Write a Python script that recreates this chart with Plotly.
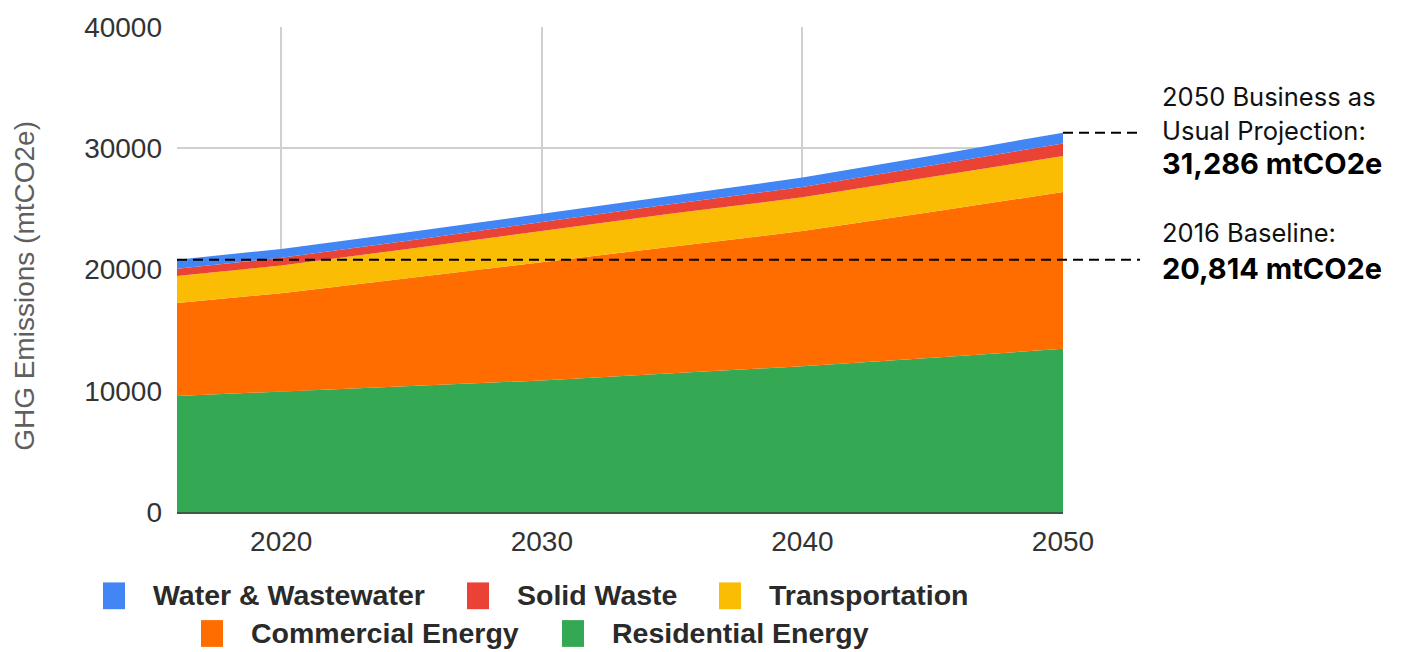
import plotly.graph_objects as go

# Projected GHG emissions by sector (mtCO2e)
years = [2016, 2020, 2025, 2030, 2035, 2040, 2045, 2050]
residential = [9570, 9940, 10420, 10850, 11440, 12020, 12720, 13460]
commercial = [7675, 8100, 8900, 9750, 10480, 11150, 12040, 12928]
transportation = [2215, 2300, 2420, 2590, 2690, 2780, 2870, 2963]
solid_waste = [605, 630, 670, 720, 790, 860, 950, 1047]
water = [749, 730, 700, 690, 720, 770, 830, 888]

baseline_2016 = 20814
bau_2050 = 31286

series = [
    ("Residential Energy", residential, "#34A853"),
    ("Commercial Energy", commercial, "#FF6D01"),
    ("Transportation", transportation, "#FBBC04"),
    ("Solid Waste", solid_waste, "#EA4335"),
    ("Water & Wastewater", water, "#4285F4"),
]

W, H = 1401, 652
L, R, T, B = 177, 338, 23, 140
PW, PH = W - L - R, H - T - B


def px_x(px):
    return (px - L) / PW


def px_y(py):
    return (H - B - py) / PH


fig = go.Figure()
for name, vals, color in series:
    fig.add_trace(go.Scatter(
        x=years, y=vals, name=name, stackgroup="one", mode="lines",
        line=dict(width=0, color=color), fillcolor=color,
        showlegend=False, hoverinfo="x+y+name",
    ))

tick_font = dict(family="Liberation Sans, Arial, sans-serif", size=28, color="#333333")

fig.update_layout(
    width=W, height=H,
    margin=dict(l=L, r=R, t=T, b=B),
    paper_bgcolor="white", plot_bgcolor="white",
    xaxis=dict(
        range=[years[0], years[-1]], tickvals=[2020, 2030, 2040, 2050],
        showgrid=True, gridcolor="#d0d0d0", gridwidth=2,
        zeroline=False, showline=True, linecolor="#3d5a45", linewidth=2,
        ticks="", tickfont=tick_font, ticklabelstandoff=3,
    ),
    yaxis=dict(
        range=[0, 40000], tickvals=[0, 10000, 20000, 30000, 40000],
        showgrid=True, gridcolor="#d0d0d0", gridwidth=2,
        zeroline=False, ticks="", tickfont=tick_font, ticklabelstandoff=14,
        tickformat="d",
    ),
    showlegend=False,
)

# Vertical axis title
annotations = [dict(
    text="GHG Emissions (mtCO2e)", textangle=-90, xref="paper", yref="paper",
    x=px_x(25), y=px_y(284), xanchor="center", yanchor="middle", showarrow=False,
    font=dict(family="Liberation Sans, Arial, sans-serif", size=28, color="#5f5f5f"),
)]

# Legend: swatches and labels in two centred rows
legend_entries = [
    ("Water & Wastewater", "#4285F4", 103, 596),
    ("Solid Waste", "#EA4335", 467, 596),
    ("Transportation", "#FBBC04", 719, 596),
    ("Commercial Energy", "#FF6D01", 201, 634),
    ("Residential Energy", "#34A853", 562, 634),
]
shapes = []
for label, color, sx, cy in legend_entries:
    shapes.append(dict(
        type="rect", xref="paper", yref="paper",
        x0=px_x(sx), x1=px_x(sx + 22), y0=px_y(cy - 13), y1=px_y(cy + 14),
        fillcolor=color, line=dict(width=0), layer="above",
    ))
    annotations.append(dict(
        text=label, xref="paper", yref="paper", x=px_x(sx + 48), y=px_y(cy),
        xanchor="left", yanchor="middle", showarrow=False,
        font=dict(family="Liberation Sans, Arial, sans-serif", size=28.5, color="#2a2a2a", weight="bold"),
    ))

# Reference lines for the baseline and the 2050 projection
dash = dict(color="black", width=2, dash="10px,6px")
shapes.append(dict(type="line", xref="paper", yref="y", x0=0, x1=px_x(1140),
                   y0=baseline_2016, y1=baseline_2016, line=dash, layer="above"))
shapes.append(dict(type="line", xref="paper", yref="y", x0=1, x1=px_x(1138),
                   y0=bau_2050, y1=bau_2050, line=dash, layer="above"))

note_font = dict(family="Inter, Noto Sans, sans-serif", size=25.5, color="#111111")
bold_font = dict(family="Inter, Noto Sans, sans-serif", size=29, color="#000000", weight="bold")
notes = [
    ("2050 Business as", 93, note_font),
    ("Usual Projection:", 127, note_font),
    (f"{bau_2050:,} mtCO2e", 161, bold_font),
    ("2016 Baseline:", 230, note_font),
    (f"{baseline_2016:,} mtCO2e", 266, bold_font),
]
for text, cy, font in notes:
    annotations.append(dict(
        text=text, xref="paper", yref="paper", x=px_x(1160), y=px_y(cy),
        xanchor="left", yanchor="middle", showarrow=False, font=font,
    ))

fig.update_layout(annotations=annotations, shapes=shapes)
fig.write_html("out.html")
